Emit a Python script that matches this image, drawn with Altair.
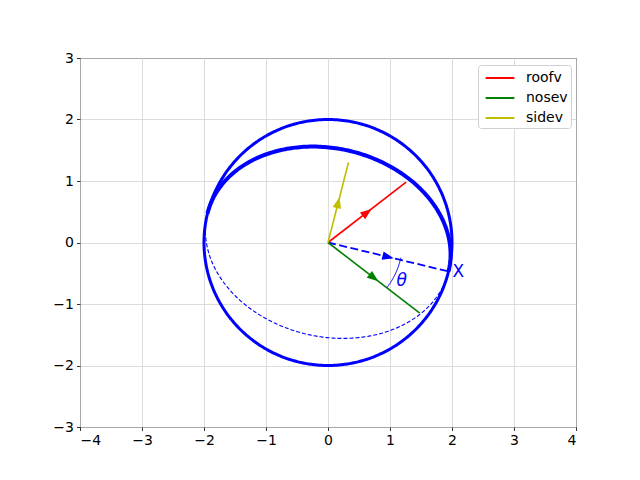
import numpy as np
import pandas as pd
import altair as alt

# vectors (end points, start at origin)
vec_names = ["roofv", "nosev", "sidev"]
vec_x = [1.26, 1.48, 0.33]
vec_y = [0.98, -1.15, 1.30]
vec_colors = ["#ff0000", "#008000", "#bfbf00"]

# X axis (line of nodes) end point
xaxis_end = [1.94, -0.47]

# sphere outline and tilted circle (projected as ellipse)
sphere_r = 2.0
ell_a = 2.0
ell_b = 1.53
ell_tilt = -13.6  # degrees
arc_r = 1.2

x_ticks = [-4, -3, -2, -1, 0, 1, 2, 3, 4]
y_ticks = [-3, -2, -1, 0, 1, 2, 3]

W, H = 496, 369
XPX, YPX = W / 8.0, H / 6.0


def curve(xs, ys):
    return pd.DataFrame({"x": xs, "y": ys, "i": np.arange(len(xs))})


t = np.linspace(0, 2 * np.pi, 361)
circle_df = curve(sphere_r * np.cos(t), sphere_r * np.sin(t))

phi = np.radians(ell_tilt)


def ellipse(tt):
    ex = ell_a * np.cos(tt) * np.cos(phi) - ell_b * np.sin(tt) * np.sin(phi)
    ey = ell_a * np.cos(tt) * np.sin(phi) + ell_b * np.sin(tt) * np.cos(phi)
    return curve(ex, ey)


front_df = ellipse(np.linspace(0, np.pi, 181))
back_df = ellipse(np.linspace(np.pi, 2 * np.pi, 181))

a0 = np.arctan2(xaxis_end[1], xaxis_end[0])
a1 = np.arctan2(vec_y[1], vec_x[1])
ta = np.linspace(a0 + 0.03, a1, 40)
arc_df = curve(arc_r * np.cos(ta), arc_r * np.sin(ta))

vec_df = pd.DataFrame({"name": vec_names, "x": 0.0, "y": 0.0, "x2": vec_x, "y2": vec_y})
xline_df = pd.DataFrame({"x": [0.0], "y": [0.0], "x2": [xaxis_end[0]], "y2": [xaxis_end[1]]})


def head_angle(dx, dy):
    return float(np.degrees(np.arctan2(dx * XPX, dy * YPX)) % 360)


heads_df = pd.DataFrame({
    "x": [v * 0.5 for v in vec_x] + [xaxis_end[0] * 0.5],
    "y": [v * 0.5 for v in vec_y] + [xaxis_end[1] * 0.5],
    "ang": [head_angle(dx, dy) for dx, dy in zip(vec_x, vec_y)] + [head_angle(*xaxis_end)],
    "col": vec_colors + ["#0000ff"],
})

xlab_df = pd.DataFrame({"x": [2.01], "y": [-0.485], "label": ["X"]})
theta_df = pd.DataFrame({"x": [1.19], "y": [-0.62], "label": ["θ"]})

minus = "replace(format(datum.value, 'd'), '-', '\u2212')"
xsc = alt.Scale(domain=[-4, 4], nice=False, zero=False)
ysc = alt.Scale(domain=[-3, 3], nice=False, zero=False)
X = alt.X("x:Q", scale=xsc, title=None,
          axis=alt.Axis(values=x_ticks, labelExpr=minus))
Y = alt.Y("y:Q", scale=ysc, title=None,
          axis=alt.Axis(values=y_ticks, labelExpr=minus))

circle = alt.Chart(circle_df).mark_line(color="#0000ff", strokeWidth=3).encode(
    x=X, y=Y, order="i:Q")
front = alt.Chart(front_df).mark_line(color="#0000ff", strokeWidth=4).encode(
    x="x:Q", y="y:Q", order="i:Q")
back = alt.Chart(back_df).mark_line(color="#0000ff", strokeWidth=1.1, strokeDash=[4, 2]).encode(
    x="x:Q", y="y:Q", order="i:Q")
xline = alt.Chart(xline_df).mark_rule(color="#0000ff", strokeWidth=1.8, strokeDash=[8, 3.5]).encode(
    x="x:Q", y="y:Q", x2="x2:Q", y2="y2:Q")
vecs = alt.Chart(vec_df).mark_rule(strokeWidth=1.6).encode(
    x="x:Q", y="y:Q", x2="x2:Q", y2="y2:Q",
    color=alt.Color("name:N", scale=alt.Scale(domain=vec_names, range=vec_colors),
                    legend=alt.Legend(title=None, orient="none", legendX=398, legendY=7,
                                      symbolType="M-0.6,0H2.6", symbolSize=324,
                                      symbolStrokeWidth=2, labelFontSize=14,
                                      labelFont="DejaVu Sans", labelOffset=25,
                                      padding=3, rowPadding=3,
                                      fillColor="white", strokeColor="#d0d0d0",
                                      cornerRadius=3)))
heads = alt.Chart(heads_df).mark_point(
    shape="M0,-1L0.75,1L-0.75,1Z", filled=True, size=130, opacity=1).encode(
    x="x:Q", y="y:Q",
    angle=alt.Angle("ang:Q", scale=None),
    color=alt.Color("col:N", scale=None))
arc = alt.Chart(arc_df).mark_line(color="#0000ff", strokeWidth=1).encode(
    x="x:Q", y="y:Q", order="i:Q")
xlab = alt.Chart(xlab_df).mark_text(
    align="left", baseline="middle", fontSize=17, font="DejaVu Sans", color="#0000ff").encode(
    x="x:Q", y="y:Q", text="label:N")
theta = alt.Chart(theta_df).mark_text(
    align="center", baseline="middle", fontSize=17, font="DejaVu Sans",
    fontStyle="italic", color="#0000ff").encode(
    x="x:Q", y="y:Q", text="label:N")

chart = alt.layer(circle, front, back, xline, vecs, heads, arc, xlab, theta).properties(
    width=W, height=H,
    autosize=alt.AutoSizeParams(type="none"),
    padding={"left": 72, "top": 50, "right": 48, "bottom": 40},
).configure_view(
    stroke="black", strokeWidth=1
).configure_axis(
    grid=True, gridColor="#d3d3d3", gridWidth=0.8,
    domain=False, tickColor="black", tickSize=3.5, tickWidth=0.8,
    labelColor="black", labelFont="DejaVu Sans", labelFontSize=14, labelPadding=3,
)

chart.save("out.html", embed_options={"renderer": "svg", "actions": False})
